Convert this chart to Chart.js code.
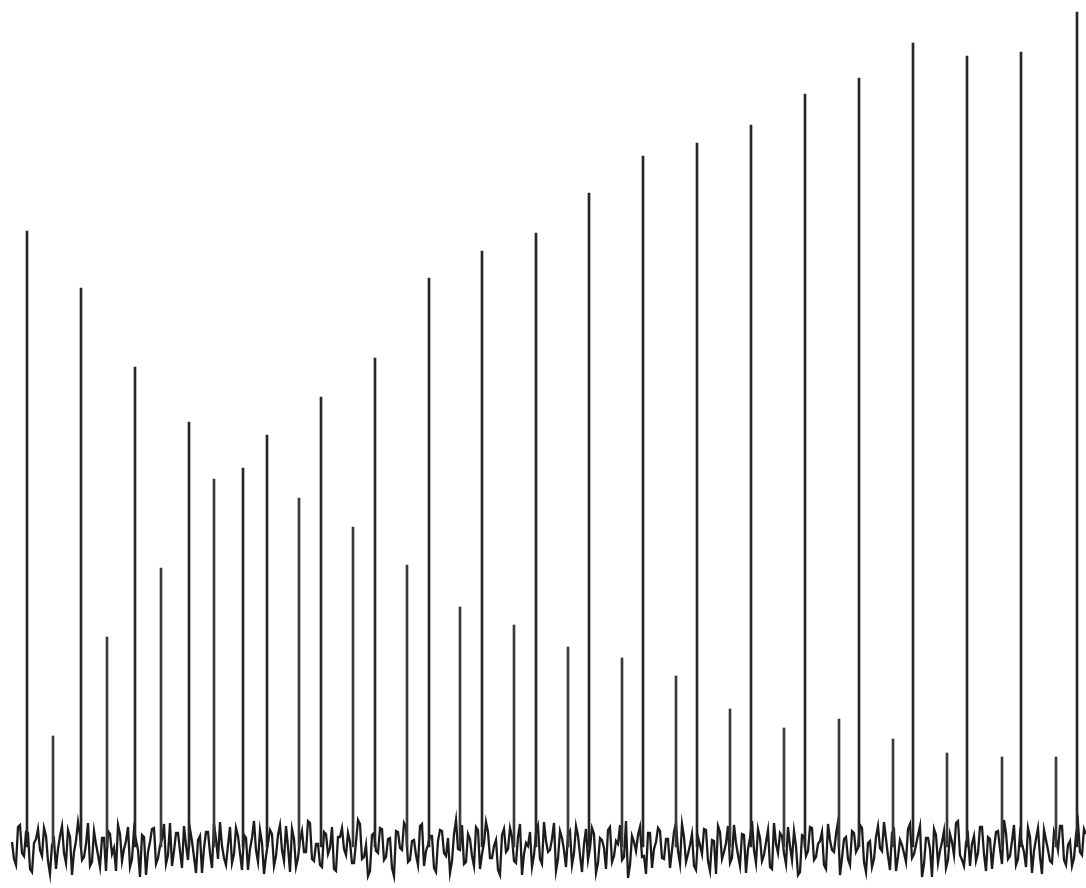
<!DOCTYPE html>
<html>
<head>
<meta charset="utf-8">
<script src="https://cdn.jsdelivr.net/npm/chart.js@4.4.1/dist/chart.umd.min.js"></script>
<style>
  html,body{margin:0;padding:0;background:#fff}
  #wrap{width:1086px;height:888px}
</style>
</head>
<body>
<div id="wrap"><canvas id="spec" width="1086" height="888"></canvas></div>
<script>
'use strict';

// channel positions + intensities (baseline = 0)
const strongPos = [28,82,136,190,244,268,322,376,430,483,537,590,644,698,752,806,860,914,968,1022,1078];
const strongInt = [616,559,480,425,379,412,450,489,569,596,614,654,691,704,722,753,769,804,791,795,835];
const weakPos = [52,106,160,213,298,352,406,459,513,567,621,675,729,783,838,892,946,1001,1055];
const weakInt = [111,210,279,368,349,320,282,240,222,200,189,171,138,119,128,108,94,90,90];

// baseline noise: two interleaved sample sets, every 2 channels from channel 12
const noiseStart = 12, noiseStep = 2;
const noiseA = [
  5,-18,22,-9,14,-25,8,-3,19,-14,2,-22,11,-6,17,-28,6,12,-10,24,
  -15,3,-20,9,16,-7,-24,13,-2,20,-12,7,-30,10,-5,18,-17,1,23,-8,
  -19,14,-4,21,-13,6,-26,11,-1,15,-21,8,25,-11,2,-16,19,-6,12,-23,
  9,-3,17,-27,4,13,-9,22,-14,0,18,-20,7,-5,26,-12,3,-18,15,-7,
  20,-24,10,-2,14,-16,5,23,-10,-29,12,-4,19,-13,8,-21,16,-1,24,-15,
  6,-8,21,-19,2,11,-25,17,-6,9,-14,27,-3,-17,13,-9,20,-22,4,15,
  -11,7,-28,18,-2,10,-16,23,-7,1,-20,14,-12,25,-5,8,-24,16,-3,12,
  -18,21,-8,3,-13,19,-26,9,-1,17,-15,6,22,-10,-31,11,-4,20,-9,14,
  -21,5,16,-12,8,-3,24,-17,10,-7,13,-23,2,18,-14,7,-27,15,-5,21,
  -11,4,-19,12,-2,26,-16,9,-8,17,-22,3,14,-6,20,-13,1,-25,11,-4,
  19,-10,6,-18,23,-3,13,-28,8,-12,16,-5,22,-15,4,-20,10,-1,25,-9,
  14,-24,7,-6,18,-11,2,21,-17,9,-30,12,-4,16,-13,5,24,-8,-19,11,
  3,-14,20,-7,10,-22,15,-2,27,-12,6,-18,13,-5,19,-26,8,-10,17,-3,
  -16,8,21,-13,2,-19,12,-5,18
];
const noiseB = [
  -12,20,-6,15,-22,4,18,-9,11,-27,7,-2,21,-16,10,-5,25,-13,3,-19,
  16,-8,9,-24,13,-1,22,-14,6,-20,17,-3,12,-28,5,19,-11,8,-17,24,
  -4,14,-21,2,18,-10,7,-26,15,-6,23,-12,1,-18,20,-7,11,-23,9,-2,
  26,-15,4,-9,17,-19,12,-3,21,-25,8,-11,16,-5,24,-14,3,-20,13,-1,
  -22,10,19,-8,5,-16,27,-12,2,-24,14,-6,18,-10,9,-29,15,-3,20,-13,
  7,-18,23,-4,11,-21,6,16,-9,-26,13,-2,22,-15,8,-19,17,-7,25,-11,
  1,-23,12,-5,19,-14,10,-28,4,15,-8,21,-17,6,-3,24,-12,9,-20,16,
  -6,11,-25,18,-1,13,-16,7,-22,20,-9,3,-13,26,-18,5,12,-10,-27,14,
  -2,19,-11,8,-21,15,-4,23,-15,2,-19,10,-7,17,-24,6,21,-12,4,-16,
  22,-8,13,-26,9,-3,18,-14,5,-20,24,-6,11,-17,1,16,-28,12,-9,20,
  -13,3,15,-22,7,-5,25,-11,10,-18,14,-1,19,-25,6,-12,21,-4,8,-23,
  17,-10,2,-15,23,-7,12,-30,9,-2,18,-16,5,-21,13,-8,26,-13,4,-19,
  11,-6,20,-24,8,-1,16,-17,14,-9,22,-12,3,-20,10,-4,19,-27,7,-14,
  15,-3,21,-18,6,-11,24,-8,13
];

const pts = (xs,ys)=>xs.map((x,i)=>({x, y:ys[i]}));
const noisePts = [];
noiseA.forEach((v,i)=>{
  noisePts.push({x:noiseStart+(2*i)*noiseStep, y:v});
  if (i<noiseB.length) noisePts.push({x:noiseStart+(2*i+1)*noiseStep, y:noiseB[i]});
});

new Chart(document.getElementById('spec'),{
  type:'bar',
  data:{
    datasets:[
      {type:'line',data:noisePts,borderColor:'#1c1c1c',borderWidth:2.3,pointRadius:0,tension:0,order:2},
      {data:pts(strongPos,strongInt),backgroundColor:'#262626',barThickness:2,order:1},
      {data:pts(weakPos,weakInt),backgroundColor:'#3a3a3a',barThickness:2,order:1}
    ]
  },
  options:{
    responsive:false,animation:false,
    layout:{padding:0},
    plugins:{legend:{display:false},tooltip:{enabled:false}},
    scales:{
      x:{type:'linear',min:0,max:1086,offset:false,display:false},
      y:{min:-41,max:847,display:false}
    }
  }
});
</script>
</body>
</html>
